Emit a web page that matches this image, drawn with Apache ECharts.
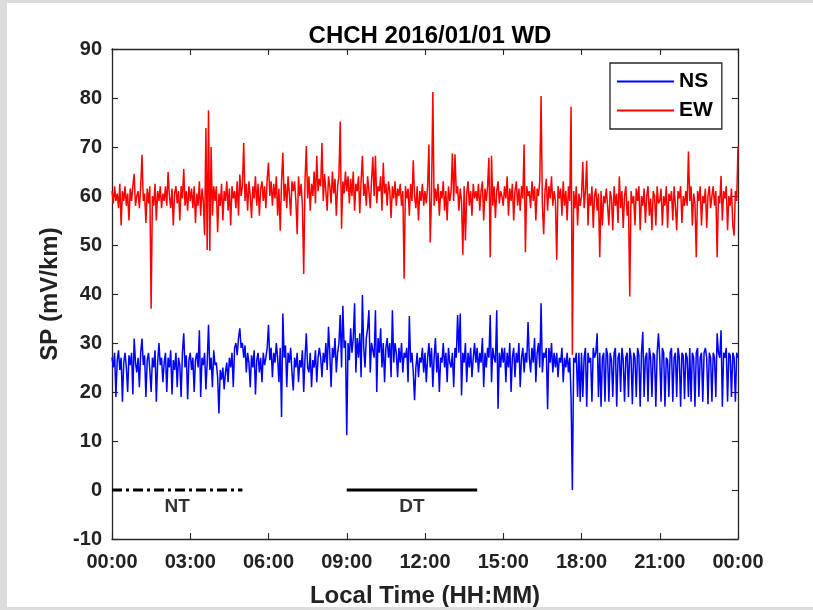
<!DOCTYPE html>
<html><head><meta charset="utf-8">
<script src="https://cdn.jsdelivr.net/npm/echarts@6/dist/echarts.min.js"></script>
<style>
html,body{margin:0;padding:0;background:#dcdcdc;width:813px;height:610px;overflow:hidden}
#c{position:absolute;left:7px;top:3px;width:806px;height:604px;background:#fff}
</style>
</head><body><div id="c"></div>
<script>
// sampling step in minutes (20 samples per hour, 00:00 .. 24:00)
const stepMinutes = 3;

// EW component (mV/km), one row per hour
const ewValues = [
  61,58.5,62,59,60.5,57.5,62.5,54,61,59,62,58,60.5,55,61.5,59,62,64.5,58,60,
  61,57.5,62,68.4,59,60.5,54.5,61.5,58.5,62,37,60,58,62.5,55,61,59,62,57.5,60.5,
  59,62,58,64.9,60,57.5,61.5,54,60.5,62,58.5,61,55,62,59.5,65.5,58,61,57,62,
  59,61.5,57.5,62,54.5,60.5,58,63,56,61.5,59,52,73.9,49,77.5,48.8,70,56,62,59,
  62,52.6,60.5,58,62.5,55,61,59,63,57,61.5,54,62,59.5,61,57.5,63,56,64.4,60,
  62,70.8,59,62.5,57,63,60,55.5,62,59.5,64,58,62.5,56,61.5,63,59,62,57.5,63.5,
  66.8,60,63,58,62.5,59.5,64,56,61.5,52.9,63,68.8,59,62.5,57.5,64,60.5,56,63,61,
  63,59,52.2,64,60,62.5,58,44.1,63,70.2,59.5,64,57,62.5,60,65,58.5,68.2,61,63.5,
  62,70.8,59,64.5,61,57,64,62,58.5,65,60.5,63.5,56,62,64,75.2,53.3,63,60.5,65,
  61,64,58.5,63.5,60,65,57,62.5,61,64,56.5,63,68.2,60,62.5,58,64,61,57.5,63,
  68,60,68.2,58.5,62,61,64,57,66.8,60.5,62.5,58,63,61,55.5,62,59.5,63,58,61.5,
  60,62.5,58,61,43.1,62,59.5,61.5,56,62.5,59,67.3,60,57.5,62,55,61,59,62.5,58,
  61,58.5,62,70.5,50.5,60,81.2,58,61.5,59,62.5,56,61,59.5,63,57,61,55,62,59,
  61,68.7,59,68.5,60.5,62,57,61.5,59,48,62,50.9,60.5,63,58,61,56,62.5,59.5,61,
  59,62.5,57,61,63,55,61.5,59,62,67.8,47.5,68.2,58,62,55.5,61,63,58.5,61,60,
  58,62,59.5,64,56,61.5,59,62.5,55,61,63,58,61.5,57,62,59.5,70.5,48.5,62,60,
  61,57.5,63,59,62,55,61.5,60,63,80.4,58,52.2,61,63.5,57,62,59.5,64,58,61,
  59,47,62,59.5,61.5,56,63,58,61,55,62,59,78.2,27.6,61,57.5,62,54,60.5,58,
  60,67,57.5,61,67.2,54,60.5,58,62,53.5,60,61.5,57,60.5,47.5,61,54,60,58.5,61.5,
  58,54,61,59.5,53,62,58,60.5,54.5,64,57.5,61,53.5,60,62,56,59,39.5,61,58.5,
  60,54,61.5,59,62,53,60,58,61.5,54.5,60,62,56,59.5,53,61,60,54,62,58.5,
  59,61.5,54,60,58,62,53.5,60.5,59,61,55,62,58,53,61,59.5,62,54.5,60,58,
  61,58,69.1,59,62,54,60.5,58.5,47.5,61,59,62,54,60,58.5,61.5,53.5,60,62,57.5,
  60,62,58,61,47.5,60,58.5,64.1,55,61,59.5,62,53,60,58,61.5,54,51.9,61,59,
  70.1
];

// NS component (mV/km), one row per hour
const nsValues = [
  27,25,28,19,26.5,28.5,24.5,27,18,26,28,25,20,27.5,25.5,28,19.5,30.9,26,24,
  27,21,28,30.9,25.5,27.5,19,26.5,28,24.5,20,27,25,28.5,18,26,30,25.5,27,22,
  26,28,20,27,25,28.5,19.5,26.5,24.5,28,21,27,25.5,19,28,32,25,27.5,18.5,26.5,
  28,24.5,27,20,26.5,28,25,32.6,19,27,25.5,28,20.5,26,33.7,24.5,27,21,28.5,25.5,
  26,23,15.6,24.5,22.5,25,20.5,24,26,22,27,25,28,21,29,30,27.5,31,33,29,
  30,27,29.5,24,28,26,21,27.5,25,28.5,19.5,26.5,28,24,27,22,28,25.5,27,29,
  33.7,26.5,29,23,28,26,30,27,22,29,14.9,36,27,29.5,21,28,26,29,24,20.3,
  27,25,28,22,26.5,25,28.5,20,27,32,25,24,28,21,26.5,25,28.5,22,27,29,
  27,23,28,26,30,24.5,33.3,28,21,29,27,31,24,28,30,35.7,25,37.6,29,30.5,
  11.2,30,26.5,33,28,31,38.1,24,31,27,32,23,39.8,29,25,31,33,36.7,24,30,
  30,27,36.7,20,31,28,33,25,30,22,29,31,27,30,23,36.7,26,30,28,23,
  29,26,30,24,28,27,29,22,35.5,26,28,24,18.3,25,28,23,27,26,29,24,
  28,22,27,30,25,29,21,27,31,24,28,20,27,26,30,25,28,22,29,26,
  25,28,21,29,27,35.7,28,36,19.3,28,26,30,22,28,25,29,23,27,30,26,
  29,24,28,26,31,21,28,25,29,27,35.7,22,29,27,26,36.7,16.6,28,25,29,
  26,29,22,28,25,30,20,27,29,23,28,26,30,21,27,29,24,28,26,34.3,
  27,24,29,26,31,22,28,30,25,38.1,24,28,27,29,16.5,29,26,30,24,28,
  25,28,23,27,26,29,22,27,25,28,24,27,19,0,27,26,28,19,28,18,
  28,19,27,29,17,28,26,27,18,29,27,28,32,19,28,17,27,28,18,29,
  27.5,18,28,26.5,19,28,29,17,27,28,20,29,26.5,18,27,28,19,29,27,17.5,
  28,27,19,29,27.5,17,28,32.3,19,27,28,18,29,27,19,28,27.5,17,28,32,
  27,18,29,28,17,27,26.5,19,28,29,18,27,28,19,29,27,17,28,27.5,18.5,
  28,27,19,29,18,28,27,17,28,29,19,27,28,18,28,29,27,17.5,28,27,
  18,28,27,19,32,28,27,32.6,17,28,27,29,18,28,27.5,19,28,27,18,28,
  27
];

// Night-time and day-time windows (hours)
const periodNames = ['NT', 'DT'];
const periodStart = [0, 9];
const periodEnd = [5, 14];
const periodLevel = 0;
const periodLabelLevel = -3.4;

const toPairs = arr => arr.map((v, i) => [i * stepMinutes / 60, v]);
const fmtHour = v => String(Math.round(v) % 24).padStart(2, '0') + ':00';

const FONT = '"Liberation Sans", Arial, Helvetica, sans-serif';
const AX = '#262626';

const chart = echarts.init(document.getElementById('c'), null, {renderer: 'canvas'});

const periodSeries = periodNames.map((n, k) => ({
  name: n,
  type: 'line',
  data: [[periodStart[k], periodLevel], [periodEnd[k], periodLevel]],
  showSymbol: false,
  silent: true,
  z: 5,
  lineStyle: {color: '#000', width: 3, type: k === 0 ? [10, 4, 3, 4] : 'solid'}
}));

const periodLabels = {
  type: 'scatter',
  name: 'periodLabels',
  symbolSize: 0,
  silent: true,
  data: periodNames.map((n, k) => ({value: [(periodStart[k] + periodEnd[k]) / 2, periodLabelLevel], name: n})),
  label: {show: true, position: 'inside', formatter: p => p.name, color: '#000',
          fontFamily: FONT, fontWeight: 'bold', fontSize: 19}
};

const axisCommon = {
  axisLine: {show: true, onZero: false, lineStyle: {color: AX, width: 1.3}},
  axisTick: {show: true, inside: true, length: 6, lineStyle: {color: AX, width: 1.1}},
  splitLine: {show: false}
};

chart.setOption({
  animation: false,
  backgroundColor: '#fff',
  title: {
    text: 'CHCH 2016/01/01 WD',
    left: 418, top: 16, textAlign: 'center',
    textStyle: {fontFamily: FONT, fontWeight: 'bold', fontSize: 24, color: '#000'}
  },
  legend: {
    data: ['NS', 'EW'],
    orient: 'vertical',
    left: 603, top: 60,
    padding: [8, 9, 8, 7],
    itemGap: 8,
    itemWidth: 57, itemHeight: 2,
    icon: 'rect',
    borderColor: AX, borderWidth: 1.3,
    backgroundColor: '#fff',
    textStyle: {fontFamily: FONT, fontWeight: 'bold', fontSize: 21, color: '#000'}
  },
  grid: {left: 105, top: 46, width: 626, height: 490, containLabel: false, outerBoundsMode: 'none'},
  xAxis: [Object.assign({
    type: 'value', min: 0, max: 24, interval: 3,
    name: 'Local Time (HH:MM)', nameLocation: 'middle', nameGap: 45,
    nameTextStyle: {fontFamily: FONT, fontWeight: 'bold', fontSize: 24, color: '#222'},
    axisLabel: {formatter: fmtHour, margin: 13, fontFamily: FONT, fontWeight: 'bold', fontSize: 20, color: '#222'}
  }, axisCommon), Object.assign({
    type: 'value', min: 0, max: 24, interval: 3, position: 'top',
    axisLabel: {show: false}
  }, axisCommon)],
  yAxis: [Object.assign({
    type: 'value', min: -10, max: 90, interval: 10,
    name: 'SP (mV/km)', nameLocation: 'middle', nameGap: 48,
    nameTextStyle: {fontFamily: FONT, fontWeight: 'bold', fontSize: 24, color: '#222'},
    axisLabel: {margin: 10, fontFamily: FONT, fontWeight: 'bold', fontSize: 20, color: '#222'}
  }, axisCommon), Object.assign({
    type: 'value', min: -10, max: 90, interval: 10, position: 'right',
    axisLabel: {show: false}
  }, axisCommon)],
  series: [
    {name: 'NS', type: 'line', data: toPairs(nsValues), showSymbol: false, sampling: 'none',
     itemStyle: {color: '#0000ff'}, lineStyle: {color: '#0000ff', width: 1.5}, z: 3},
    {name: 'EW', type: 'line', data: toPairs(ewValues), showSymbol: false, sampling: 'none',
     itemStyle: {color: '#ff0000'}, lineStyle: {color: '#ff0000', width: 1.5}, z: 4},
    ...periodSeries,
    periodLabels
  ]
});
</script></body></html>
